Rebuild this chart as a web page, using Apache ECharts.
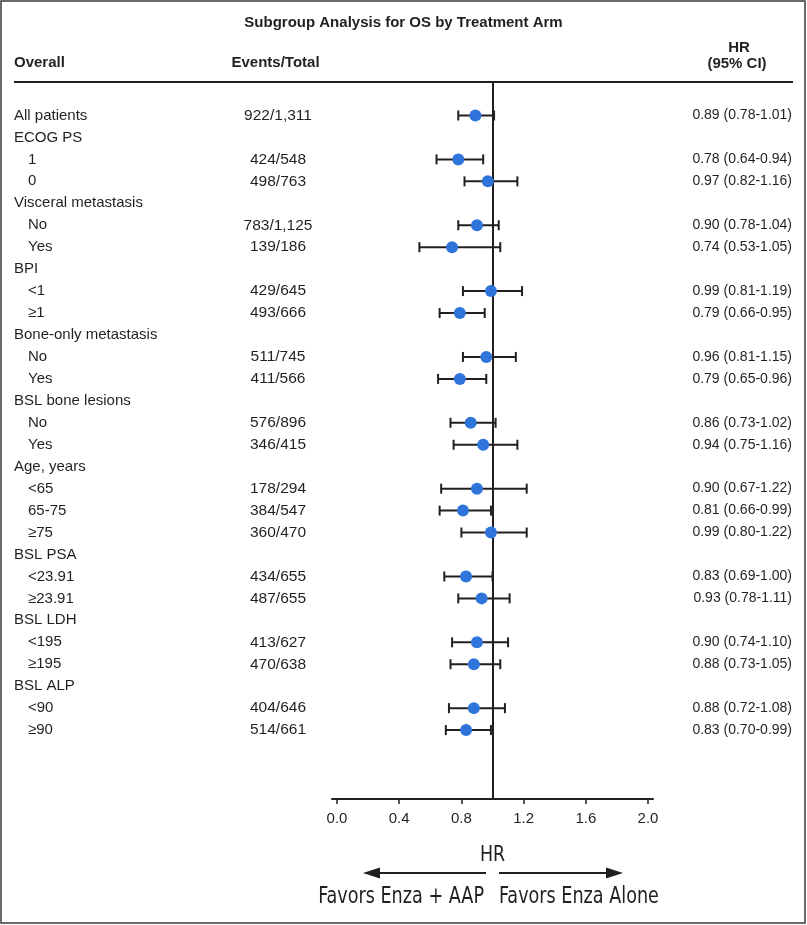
<!DOCTYPE html>
<html><head><meta charset="utf-8">
<script src="https://cdn.jsdelivr.net/npm/echarts@6/dist/echarts.min.js"></script>
<style>html,body{margin:0;padding:0;background:#fff}#c{width:807px;height:925px}</style>
</head><body><div id="c"></div>
<script>
// ---- data ----
const rowLabels = ['All patients','ECOG PS','1','0','Visceral metastasis','No','Yes','BPI','<1','\u22651',
  'Bone-only metastasis','No','Yes','BSL bone lesions','No','Yes','Age, years','<65','65-75','\u226575',
  'BSL PSA','<23.91','\u226523.91','BSL LDH','<195','\u2265195','BSL ALP','<90','\u226590'];
const rowLevel = [0,0,1,1,0,1,1,0,1,1,0,1,1,0,1,1,0,1,1,1,0,1,1,0,1,1,0,1,1];
const events = ['922/1,311',null,'424/548','498/763',null,'783/1,125','139/186',null,'429/645','493/666',
  null,'511/745','411/566',null,'576/896','346/415',null,'178/294','384/547','360/470',
  null,'434/655','487/655',null,'413/627','470/638',null,'404/646','514/661'];
const hrEst = [0.89,null,0.78,0.97,null,0.90,0.74,null,0.99,0.79,null,0.96,0.79,null,0.86,0.94,null,0.90,0.81,0.99,
  null,0.83,0.93,null,0.90,0.88,null,0.88,0.83];
const ciLow = [0.78,null,0.64,0.82,null,0.78,0.53,null,0.81,0.66,null,0.81,0.65,null,0.73,0.75,null,0.67,0.66,0.80,
  null,0.69,0.78,null,0.74,0.73,null,0.72,0.70];
const ciHigh = [1.01,null,0.94,1.16,null,1.04,1.05,null,1.19,0.95,null,1.15,0.96,null,1.02,1.16,null,1.22,0.99,1.22,
  null,1.00,1.11,null,1.10,1.05,null,1.08,0.99];
const xTicks = [0, 0.4, 0.8, 1.2, 1.6, 2.0];
const refValue = 1;
const titleText = 'Subgroup Analysis for OS by Treatment Arm';
const colHeaders = ['Overall', 'Events/Total', 'HR', '(95% CI)'];
const axisTitle = 'HR';
const favorLeft = 'Favors Enza + AAP';
const favorRight = 'Favors Enza Alone';

// ---- styles ----
const INK = '#231f20';
const DOT = '#2e74db';
const BODY = "'Liberation Sans', Arial, Helvetica, sans-serif";
const NARROW = "'DejaVu Sans Condensed', 'Liberation Sans', sans-serif";

const fmt = v => v.toFixed(2);
const textRows = rowLabels.map((l, i) => [0, i]);
const ciRows = [];
const dotRows = [];
hrEst.forEach((v, i) => {
  if (v != null) { ciRows.push([i, ciLow[i], ciHigh[i]]); dotRows.push([v, i]); }
});

const chart = echarts.init(document.getElementById('c'), null, {renderer: 'canvas'});
chart.setOption({
  backgroundColor: '#fff',
  animation: false,
  grid: {left: 332, right: 154, top: 82, bottom: 126, containLabel: false},
  xAxis: {
    type: 'value', min: -0.032, max: 2.032,
    axisLine: {show: true, onZero: false, lineStyle: {color: INK, width: 2}},
    axisTick: {show: true, customValues: xTicks, length: 5, inside: false, lineStyle: {color: INK, width: 1.5}},
    axisLabel: {customValues: xTicks, formatter: v => v.toFixed(1), fontFamily: BODY, fontSize: 15, color: INK, margin: 12},
    splitLine: {show: false}
  },
  yAxis: {type: 'value', inverse: true, min: -1.526, max: 31.14, show: false},
  series: [
    {
      type: 'custom', coordinateSystem: 'cartesian2d', data: textRows, encode: {x: 0, y: 1}, silent: true,
      renderItem: (params, api) => {
        const i = api.value(1);
        const y = api.coord([0, i])[1];
        const kids = [{
          type: 'text', x: rowLevel[i] ? 28 : 14, y: y,
          style: {text: rowLabels[i], fill: INK, font: '15px ' + BODY, textAlign: 'left', textVerticalAlign: 'middle'}
        }];
        if (events[i]) kids.push({
          type: 'text', x: 278, y: y,
          style: {text: events[i], fill: INK, font: '15.5px ' + BODY, textAlign: 'center', textVerticalAlign: 'middle'}
        });
        if (hrEst[i] != null) kids.push({
          type: 'text', x: 792, y: y,
          style: {text: fmt(hrEst[i]) + ' (' + fmt(ciLow[i]) + '-' + fmt(ciHigh[i]) + ')', fill: INK,
                  font: '14px ' + BODY, textAlign: 'right', textVerticalAlign: 'middle'}
        });
        return {type: 'group', children: kids};
      }
    },
    {
      type: 'custom', coordinateSystem: 'cartesian2d', data: ciRows, encode: {x: [1, 2], y: 0}, silent: true, z: 3,
      renderItem: (params, api) => {
        const i = api.value(0);
        const a = api.coord([api.value(1), i]);
        const b = api.coord([api.value(2), i]);
        const h = 5;
        const st = {stroke: INK, lineWidth: 2};
        return {type: 'group', children: [
          {type: 'line', shape: {x1: a[0], y1: a[1], x2: b[0], y2: b[1]}, style: st},
          {type: 'line', shape: {x1: a[0], y1: a[1] - h, x2: a[0], y2: a[1] + h}, style: st},
          {type: 'line', shape: {x1: b[0], y1: b[1] - h, x2: b[0], y2: b[1] + h}, style: st}
        ]};
      }
    },
    {
      type: 'scatter', data: dotRows, symbol: 'circle', symbolSize: 12, z: 5, silent: true,
      itemStyle: {color: DOT, opacity: 1},
      markLine: {
        silent: true, symbol: 'none', label: {show: false}, z: 2,
        lineStyle: {color: INK, width: 2, type: 'solid', opacity: 1},
        data: [{xAxis: refValue}]
      }
    }
  ],
  graphic: [
    {type: 'rect', shape: {x: 1, y: 1, width: 804, height: 922}, style: {fill: 'none', stroke: '#3a3a3a', lineWidth: 1.5}, silent: true},
    {type: 'text', x: 403.5, y: 23, style: {text: titleText, font: 'bold 15px ' + BODY, fill: INK, textAlign: 'center', textVerticalAlign: 'middle'}},
    {type: 'text', x: 14, y: 63, style: {text: colHeaders[0], font: 'bold 15px ' + BODY, fill: INK, textAlign: 'left', textVerticalAlign: 'middle'}},
    {type: 'text', x: 231.5, y: 63, style: {text: colHeaders[1], font: 'bold 15px ' + BODY, fill: INK, textAlign: 'left', textVerticalAlign: 'middle'}},
    {type: 'text', x: 739, y: 48, style: {text: colHeaders[2], font: 'bold 15px ' + BODY, fill: INK, textAlign: 'center', textVerticalAlign: 'middle'}},
    {type: 'text', x: 737, y: 64, style: {text: colHeaders[3], font: 'bold 15px ' + BODY, fill: INK, textAlign: 'center', textVerticalAlign: 'middle'}},
    {type: 'line', shape: {x1: 14, y1: 82, x2: 793, y2: 82}, style: {stroke: INK, lineWidth: 2}},
    {type: 'text', x: 492.5, y: 855, scaleX: 0.88, style: {text: axisTitle, font: '22px ' + NARROW, fill: INK, textAlign: 'center', textVerticalAlign: 'middle'}},
    {type: 'line', shape: {x1: 486, y1: 873, x2: 372, y2: 873}, style: {stroke: INK, lineWidth: 2}},
    {type: 'polygon', shape: {points: [[363, 873], [380, 867.5], [380, 878.5]]}, style: {fill: INK}},
    {type: 'line', shape: {x1: 499, y1: 873, x2: 614, y2: 873}, style: {stroke: INK, lineWidth: 2}},
    {type: 'polygon', shape: {points: [[623, 873], [606, 867.5], [606, 878.5]]}, style: {fill: INK}},
    {type: 'text', x: 484, y: 897, scaleX: 0.87, style: {text: favorLeft, font: '22.5px ' + NARROW, fill: INK, textAlign: 'right', textVerticalAlign: 'middle'}},
    {type: 'text', x: 499, y: 897, scaleX: 0.87, style: {text: favorRight, font: '22.5px ' + NARROW, fill: INK, textAlign: 'left', textVerticalAlign: 'middle'}}
  ]
});
</script></body></html>
